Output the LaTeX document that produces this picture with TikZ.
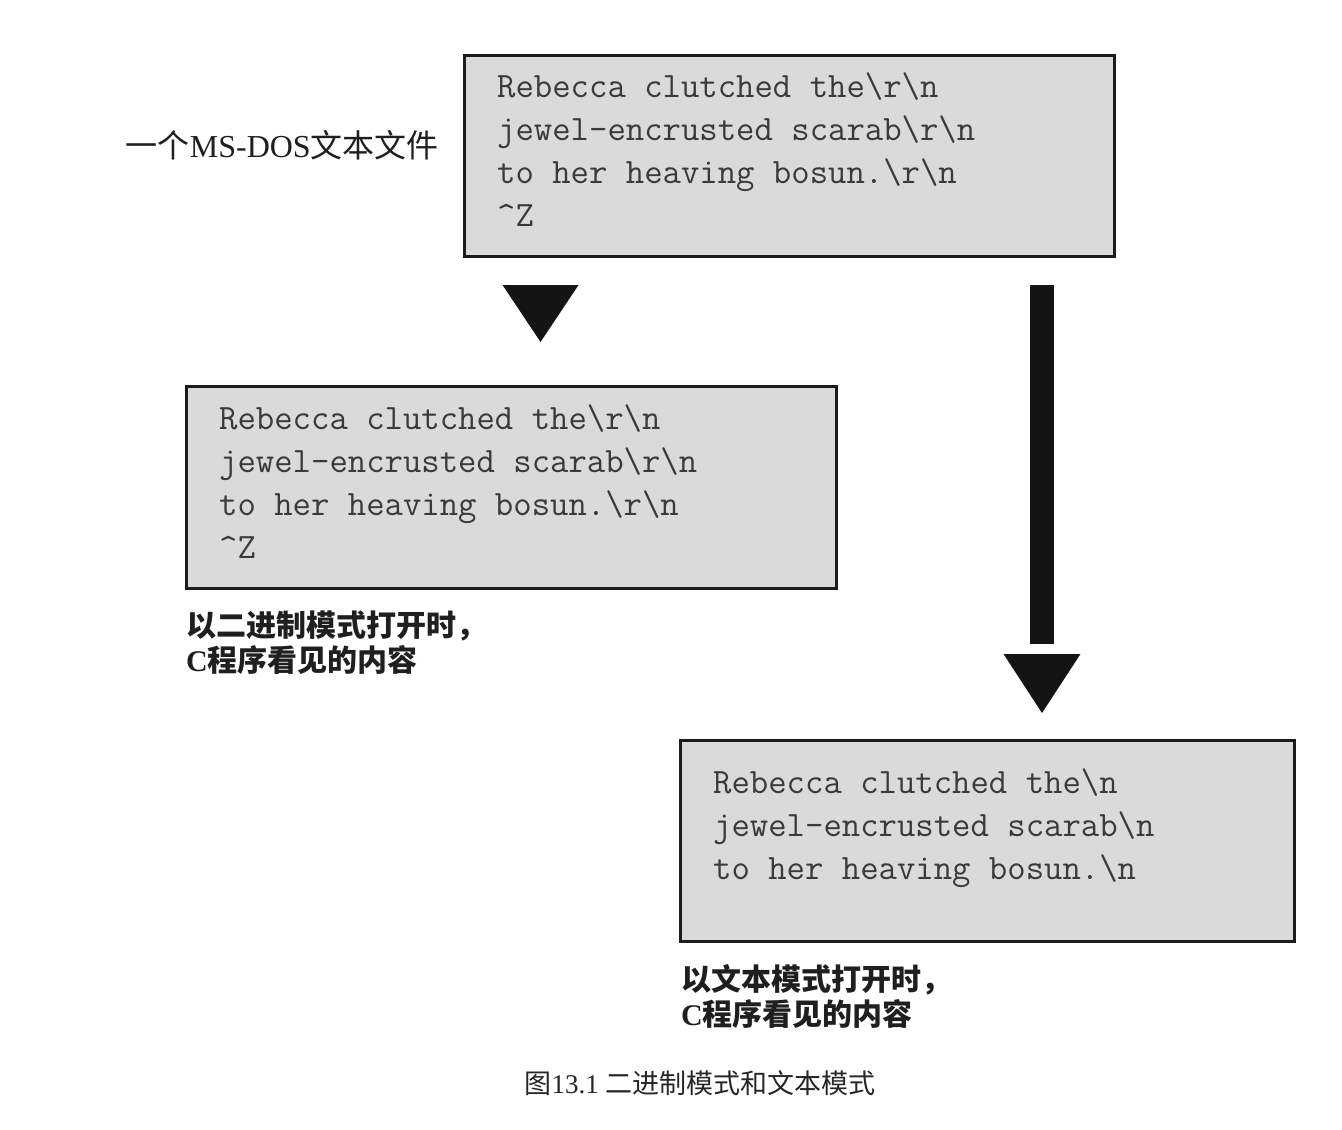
\documentclass[tikz,border=0pt]{standalone}
\usepackage{fontspec}
\setmainfont{Liberation Serif}
\newfontfamily\cjkfont{Noto Sans CJK SC}
\definecolor{boxgray}{HTML}{DADADA}
\definecolor{boxline}{HTML}{1C1C1C}
\definecolor{codeink}{HTML}{3A3A3A}
\newcommand{\dosend}{\textbackslash r\textbackslash n}
\newcommand{\unixend}{\textbackslash n}

\begin{document}
\begin{tikzpicture}[x=1pt,y=-1pt,
    filebox/.style={draw=boxline, line width=3pt, fill=boxgray, inner sep=0pt, anchor=north west},
    listing/.style={inner sep=0pt, align=left, anchor=base west, text=codeink,
        font=\ttfamily\addfontfeature{FakeBold=0.8}\fontsize{35.7}{43}\selectfont},
    modelabel/.style={inner sep=0pt, align=left, text=black!88,
        font=\bfseries\fontsize{30}{35}\selectfont},
    headfill/.style={fill=black!92},
    shaft/.style={line width=24pt, draw=black!92}]
    \useasboundingbox (0,0) rectangle (1342,1130);

    % the file on disk
    \node[filebox, minimum width=650pt, minimum height=201pt] (dosfile) at (462.5,53.5) {};
    \node[listing] (dostext) at (497,226)
        {Rebecca clutched the\dosend\\jewel-encrusted scarab\dosend\\to her heaving bosun.\dosend\\\textasciicircum Z};
    \node[inner sep=0pt, anchor=east, text=black!88, font=\fontsize{32}{36}\selectfont] (doslabel) at (439,145)
        {{\cjkfont 一个}MS-DOS{\cjkfont 文本文件}};

    % binary mode
    \fill[headfill] (502.5,285) -- (578.5,285) -- (540.5,342) -- cycle;
    \node[filebox, minimum width=650pt, minimum height=202pt] (binview) at (184.5,384.5) {};
    \node[listing] (bintext) at (219,558)
        {Rebecca clutched the\dosend\\jewel-encrusted scarab\dosend\\to her heaving bosun.\dosend\\\textasciicircum Z};
    \node[modelabel, anchor=north west] (binlabel) at (186,611)
        {{\cjkfont 以二进制模式打开时，}\\C{\cjkfont 程序看见的内容}};

    % text mode
    \coordinate (shafttop) at (1042,285);
    \coordinate (shaftend) at (1042,644);
    \draw[shaft] (shafttop) -- (shaftend);
    \fill[headfill] (1003.5,654) -- (1080.5,654) -- (1042,713) -- cycle;
    \node[filebox, minimum width=614pt, minimum height=201pt] (textview) at (678.5,738.5) {};
    \node[listing] (texttext) at (713,879)
        {Rebecca clutched the\unixend\\jewel-encrusted scarab\unixend\\to her heaving bosun.\unixend};
    \node[modelabel, anchor=north west] (textlabel) at (681,964)
        {{\cjkfont 以文本模式打开时，}\\C{\cjkfont 程序看见的内容}};

    % caption
    \node[inner sep=0pt, text=black!85, font=\fontsize{27}{30}\selectfont] (figcaption) at (700,1083)
        {{\cjkfont 图}13.1 {\cjkfont 二进制模式和文本模式}};
\end{tikzpicture}
\end{document}
